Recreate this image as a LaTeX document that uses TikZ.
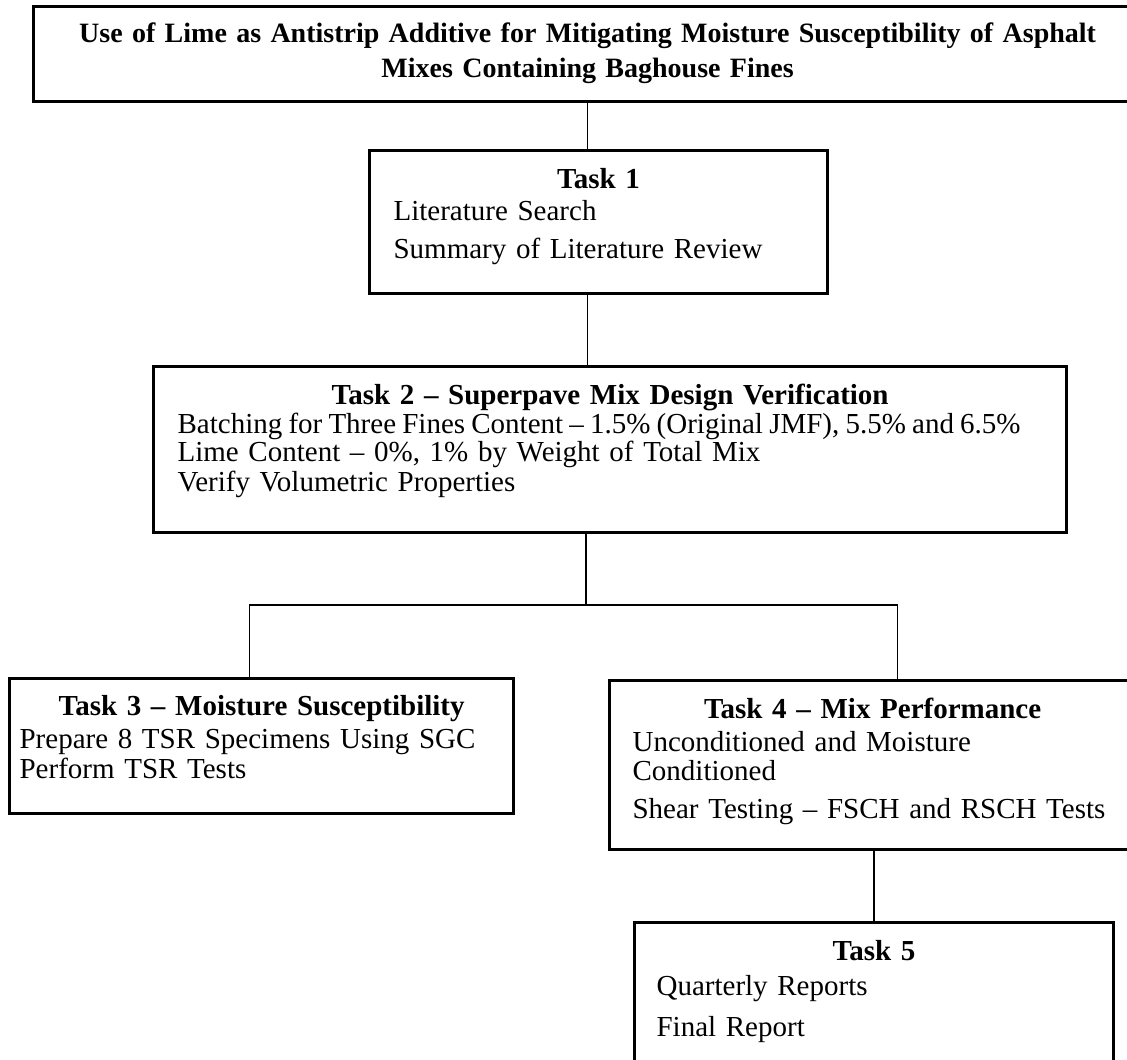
\documentclass[tikz,border=0pt]{standalone}
\usepackage{fontspec}
\setmainfont{Liberation Serif}

\begin{document}
\begin{tikzpicture}[x=0.5pt, y=-0.5pt, font=\fontsize{14.5}{15}\selectfont,
  taskbox/.style={draw, line width=1.6pt, anchor=north west, inner ysep=0pt, align=left, text height=19pt},
  link/.style={line width=0.65pt}]
\useasboundingbox (0,0) rectangle (1127,1059);
\clip (0,0) rectangle (1127,1059);

% project title
\node[taskbox, align=center, text width=554pt, inner xsep=0pt, text height=18pt, text depth=29.5pt,
      font=\fontsize{14}{15}\selectfont\bfseries] (aim) at (32,5)
  {Use of Lime as Antistrip Additive for Mitigating Moisture Susceptibility of Asphalt\\[2.5pt]
   Mixes Containing Baghouse Fines};

% tasks
\node[taskbox, text width=205pt, inner xsep=12pt, text depth=52.5pt] (t1) at (368,149)
  {\makebox[\linewidth]{\bfseries Task 1}\\[1pt]
   Literature Search\\[4pt]
   Summary of Literature Review};
\node[taskbox, text width=436.5pt, inner xsep=10pt, text depth=64pt] (t2) at (152,365)
  {\makebox[\linewidth]{\bfseries Task 2 -- Superpave Mix Design Verification}\\[-0.5pt]
   \mbox{\spaceskip=3.1pt\hspace*{2pt}Batching for Three Fines Content -- 1.5\% (Original JMF), 5.5\% and 6.5\%}\\[-1pt]
   \hspace*{2pt}Lime Content -- 0\%, 1\% by Weight of Total Mix\\[0pt]
   \hspace*{2pt}Verify Volumetric Properties};
\node[taskbox, text width=242pt, inner xsep=5pt, text height=18.5pt, text depth=49pt] (t3) at (8,677)
  {\makebox[\linewidth]{\bfseries Task 3 -- Moisture Susceptibility}\\[1.5pt]
   Prepare 8 TSR Specimens Using SGC\\[0pt]
   Perform TSR Tests};
\node[taskbox, text width=240pt, inner xsep=11.5pt, text depth=65.5pt] (t4) at (608,679)
  {\makebox[\linewidth]{\bfseries Task 4 -- Mix Performance}\\[1.5pt]
   Unconditioned and Moisture\\[-0.5pt]
   Conditioned\\[4pt]
   Shear Testing -- FSCH and RSCH Tests};
\node[taskbox, text width=217.5pt, inner xsep=11pt, text depth=60.5pt] (t5) at (633,921)
  {\makebox[\linewidth]{\bfseries Task 5}\\[2.5pt]
   Quarterly Reports\\[5.5pt]
   Final Report};

% links
\coordinate (fork) at (586,605);
\draw[link] (aim.south) -- (aim.south |- t1.north);
\draw[link] (t1.south -| aim.south) -- (t2.north -| aim.south);
\draw[link] (t2.south -| fork) -- (fork);
\draw[link] ([xshift=-6pt]t3.north) |- (fork) -| ([xshift=12.5pt]t4.north);
\draw[link] (t4.south -| t5.north) -- (t5.north);
\end{tikzpicture}
\end{document}
